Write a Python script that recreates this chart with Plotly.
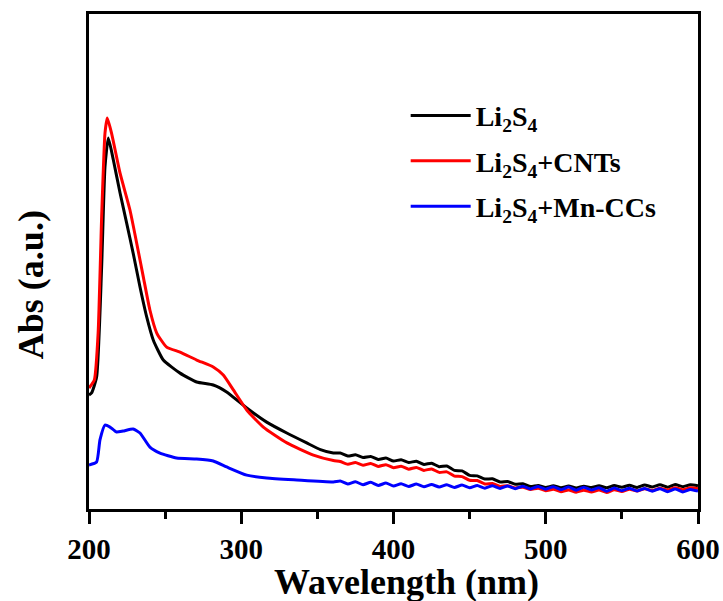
import plotly.graph_objects as go

# Wavelength grids (nm)
wl_smooth_black = [200, 201.7, 205, 208.3, 210.5, 212.7, 216, 220.4, 224.7, 229, 233.5, 237.9, 242.2,
                   248.8, 259.8, 270.7, 281.6, 290.4, 303.6, 316.7, 329.9, 343, 352, 360.5]
abs_smooth_black = [0.461, 0.469, 0.533, 0.978, 1.382, 1.499, 1.410, 1.277, 1.156, 1.034, 0.897, 0.776, 0.683,
                    0.602, 0.549, 0.513, 0.501, 0.473, 0.408, 0.351, 0.307, 0.267, 0.240, 0.226]

wl_smooth_red = [200, 203.5, 206, 208.3, 210.5, 212, 214.8, 220.4, 226.9, 231.3, 235.7, 240, 244.5,
                 251, 259.8, 270.7, 281.6, 288.2, 294.8, 303.6, 314.5, 330, 347.4, 360.5]
abs_smooth_red = [0.489, 0.521, 0.711, 1.180, 1.519, 1.580, 1.519, 1.357, 1.208, 1.075, 0.937, 0.804, 0.711,
                  0.654, 0.634, 0.602, 0.574, 0.541, 0.481, 0.400, 0.331, 0.267, 0.218, 0.196]

wl_smooth_blue = [200, 205, 207.2, 210.5, 213.8, 218, 222.4, 229, 233.5, 240, 246.6, 257.5, 270.7,
                  281.6, 290.4, 303.6, 316.7, 336.5, 360.5]
abs_smooth_blue = [0.178, 0.190, 0.279, 0.339, 0.331, 0.311, 0.315, 0.323, 0.307, 0.250, 0.226, 0.206, 0.202,
                   0.194, 0.170, 0.137, 0.125, 0.117, 0.109]

wl_noisy = [365, 370, 375, 380, 385, 390, 395, 400, 405, 410, 415, 420, 425, 430, 435, 440, 445, 450,
            455, 460, 465, 470, 475, 480, 485, 490, 495, 500, 505, 510, 515, 520, 525, 530, 535, 540,
            545, 550, 555, 560, 565, 570, 575, 580, 585, 590, 595, 600]
abs_noisy_black = [0.226, 0.214, 0.219, 0.208, 0.212, 0.200, 0.206, 0.194, 0.199, 0.188, 0.193, 0.180,
                   0.185, 0.171, 0.174, 0.156, 0.154, 0.136, 0.134, 0.121, 0.122, 0.109, 0.111, 0.100,
                   0.102, 0.091, 0.095, 0.087, 0.094, 0.086, 0.093, 0.085, 0.092, 0.087, 0.094, 0.086,
                   0.095, 0.088, 0.096, 0.087, 0.097, 0.089, 0.098, 0.088, 0.099, 0.090, 0.098, 0.094]
abs_noisy_red = [0.192, 0.181, 0.188, 0.177, 0.184, 0.172, 0.179, 0.167, 0.173, 0.161, 0.168, 0.156,
                 0.162, 0.148, 0.150, 0.133, 0.131, 0.116, 0.115, 0.101, 0.103, 0.091, 0.094, 0.085,
                 0.088, 0.079, 0.084, 0.074, 0.080, 0.070, 0.077, 0.068, 0.076, 0.069, 0.077, 0.067,
                 0.078, 0.071, 0.080, 0.073, 0.082, 0.075, 0.084, 0.077, 0.086, 0.078, 0.086, 0.083]
abs_noisy_blue = [0.113, 0.101, 0.110, 0.098, 0.108, 0.095, 0.105, 0.093, 0.102, 0.091, 0.101, 0.090,
                  0.099, 0.089, 0.098, 0.087, 0.097, 0.086, 0.095, 0.084, 0.094, 0.083, 0.093, 0.082,
                  0.092, 0.081, 0.091, 0.080, 0.090, 0.078, 0.089, 0.076, 0.088, 0.077, 0.086, 0.072,
                  0.085, 0.074, 0.084, 0.073, 0.083, 0.072, 0.082, 0.070, 0.081, 0.069, 0.079, 0.072]

series_names = ["Li<sub>2</sub>S<sub>4</sub>",
                "Li<sub>2</sub>S<sub>4</sub>+CNTs",
                "Li<sub>2</sub>S<sub>4</sub>+Mn-CCs"]
series_colors = ["#000000", "#ff0000", "#0000ff"]

x_tick_vals = [200, 300, 400, 500, 600]
x_tick_text = ["200", "300", "400", "500", "600"]
x_title = "Wavelength (nm)"
y_title = "Abs (a.u.)"

FONT = "Liberation Serif, Times New Roman, serif"

fig = go.Figure()
data = [
    (wl_smooth_black + wl_noisy, abs_smooth_black + abs_noisy_black),
    (wl_smooth_red + wl_noisy, abs_smooth_red + abs_noisy_red),
    (wl_smooth_blue + wl_noisy, abs_smooth_blue + abs_noisy_blue),
]
for i, ((xs, ys), name, color) in enumerate(zip(data, series_names, series_colors)):
    fig.add_trace(go.Scatter(x=xs, y=ys, mode="lines", name=name, legendgroup=f"g{i}",
                             line=dict(color=color, width=3, shape="spline", smoothing=0.5)))

title_font = dict(size=36, family=FONT, weight="bold", color="black")
fig.update_layout(
    width=723, height=601,
    margin=dict(l=89, r=25, t=14, b=92),
    paper_bgcolor="white", plot_bgcolor="white",
    font=dict(family=FONT, color="black", weight="bold"),
    showlegend=True,
    legend=dict(x=0.52, y=0.845, xanchor="left", yanchor="top",
                bgcolor="rgba(0,0,0,0)", font=dict(size=28, family=FONT, weight="bold"),
                itemwidth=60, tracegroupgap=6),
    xaxis=dict(range=[200, 600], tickmode="array", tickvals=x_tick_vals, ticktext=x_tick_text,
               ticks="outside", ticklen=12, tickwidth=3, tickcolor="black",
               minor=dict(ticks="outside", ticklen=7, tickwidth=3, tickcolor="black", dtick=50, tick0=200),
               showline=True, linewidth=3, linecolor="black", mirror=True,
               showgrid=False, zeroline=False, automargin=False,
               tickfont=dict(size=29, family=FONT, weight="bold")),
    yaxis=dict(range=[0, 2.0], showticklabels=False, ticks="",
               showline=True, linewidth=3, linecolor="black", mirror=True,
               showgrid=False, zeroline=False, automargin=False),
    annotations=[
        dict(text=x_title, xref="paper", yref="paper", x=0.522, y=-0.147,
             xanchor="center", yanchor="middle", showarrow=False, font=title_font),
        dict(text=y_title, xref="paper", yref="paper", x=-0.095, y=0.4525,
             xanchor="center", yanchor="middle", textangle=-90, showarrow=False, font=title_font),
    ],
)

fig.write_html("out.html", config={"displayModeBar": False},
               post_script="document.body.style.margin='0';")
